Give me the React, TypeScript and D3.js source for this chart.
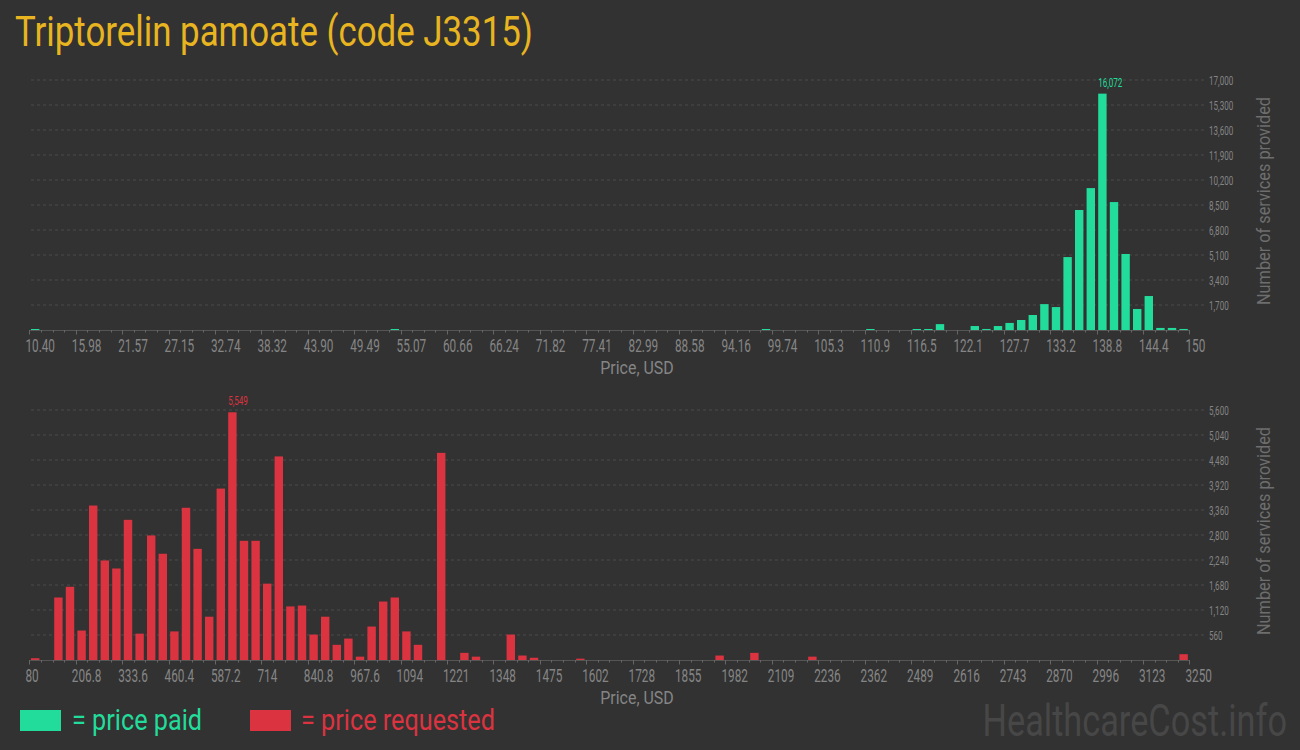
import React from "react";
import * as d3 from "d3";

const titleText = "Triptorelin pamoate (code J3315)";

const paidTickLabels = ["10.40","15.98","21.57","27.15","32.74","38.32","43.90","49.49","55.07","60.66","66.24","71.82","77.41","82.99","88.58","94.16","99.74","105.3","110.9","116.5","122.1","127.7","133.2","138.8","144.4","150"];
const requestedTickLabels = ["80","206.8","333.6","460.4","587.2","714","840.8","967.6","1094","1221","1348","1475","1602","1728","1855","1982","2109","2236","2362","2489","2616","2743","2870","2996","3123","3250"];

const paidDomain = [10.4, 150];
const requestedDomain = [80, 3250];

// 100 bins each
const paidCounts = [
  45, 0, 0, 0, 0, 0, 0, 0, 0, 0,
  0, 0, 0, 0, 0, 0, 0, 0, 0, 0,
  0, 0, 0, 0, 0, 0, 0, 0, 0, 0,
  0, 40, 0, 0, 0, 0, 0, 0, 0, 0,
  0, 0, 0, 0, 0, 0, 0, 0, 0, 0,
  0, 0, 0, 0, 0, 0, 0, 0, 0, 0,
  0, 0, 0, 40, 0, 0, 0, 0, 0, 0,
  0, 0, 40, 0, 0, 0, 50, 50, 400, 0,
  0, 270, 70, 270, 480, 680, 1020, 1760, 1560, 4960,
  8160, 9650, 16072, 8700, 5170, 1430, 2310, 140, 140, 70,
];

const requestedCounts = [
  40, 0, 1400, 1640, 660, 3460, 2230, 2050, 3140, 590,
  2790, 2380, 640, 3410, 2490, 970, 3840, 5549, 2670, 2670,
  1710, 4560, 1200, 1220, 570, 970, 340, 480, 75, 750,
  1310, 1400, 640, 340, 0, 4640, 0, 160, 75, 0,
  0, 570, 100, 50, 0, 0, 0, 30, 0, 0,
  0, 0, 0, 0, 0, 0, 0, 0, 0, 100,
  0, 0, 160, 0, 0, 0, 0, 75, 0, 0,
  0, 0, 0, 0, 0, 0, 0, 0, 0, 0,
  0, 0, 0, 0, 0, 0, 0, 0, 0, 0,
  0, 0, 0, 0, 0, 0, 0, 0, 0, 130,
];

const paidYTicks = [1700, 3400, 5100, 6800, 8500, 10200, 11900, 13600, 15300, 17000];
const requestedYTicks = [560, 1120, 1680, 2240, 2800, 3360, 3920, 4480, 5040, 5600];

const BG = "#323232";
const GREEN = "#22dc9b";
const RED = "#dc3340";
const TITLE = "#e8b520";
const TEXT = "#858585";
const FONT = "Roboto, 'Liberation Sans', sans-serif";

const X0 = 29.4;
const X1 = 1189.4;

type PanelProps = {
  counts: number[];
  domain: number[];
  tickLabels: string[];
  yTicks: number[];
  yTop: number;
  yBase: number;
  color: string;
};

function CText(props: { x: number; y: number; sx?: number; size: number; fill: string; anchor?: string; children: React.ReactNode }) {
  const { x, y, sx = 0.62, size, fill, anchor = "start", children } = props;
  return (
    <text
      transform={`translate(${x},${y}) scale(${sx},1)`}
      fontSize={size}
      fill={fill}
      fontFamily={FONT}
      textAnchor={anchor}
    >
      {children}
    </text>
  );
}

function Panel({ counts, domain, tickLabels, yTicks, yTop, yBase, color }: PanelProps) {
  const x = d3.scaleLinear().domain(domain).range([X0, X1]);
  const yMax = yTicks[yTicks.length - 1];
  const y = d3.scaleLinear().domain([0, yMax]).range([yBase, yTop]);
  const n = counts.length;
  const binW = (domain[1] - domain[0]) / n;
  const majorStep = (domain[1] - domain[0]) / (tickLabels.length - 1);
  const fmt = d3.format(",");
  const maxVal = d3.max(counts) as number;
  const maxIdx = counts.indexOf(maxVal);
  const pad = 1.6;

  return (
    <g>
      {yTicks.map((t) => (
        <g key={"g" + t}>
          <line x1={31} x2={1205} y1={y(t)} y2={y(t)} stroke="#4b4b4b" strokeWidth={1} strokeDasharray="3,3" />
          <CText x={1209} y={y(t) + 4.5} size={13} fill={TEXT}>{fmt(t)}</CText>
        </g>
      ))}
      {counts.map((c, i) => {
        if (c <= 0) return null;
        const x0 = x(domain[0] + i * binW);
        const x1 = x(domain[0] + (i + 1) * binW);
        const h = Math.max(1, yBase - y(c));
        return <rect key={"b" + i} x={x0 + pad} width={x1 - x0 - 2 * pad} y={yBase - h} height={h} fill={color} />;
      })}
      <line x1={X0} x2={X1} y1={yBase + 0.5} y2={yBase + 0.5} stroke="#555" strokeWidth={1} />
      {d3.range(n + 1).map((i) => {
        const xx = Math.round(x(domain[0] + i * binW)) + 0.5;
        const major = i % 4 === 0;
        return <line key={"t" + i} x1={xx} x2={xx} y1={yBase} y2={yBase + (major ? 4.5 : 2.5)} stroke="#666" strokeWidth={1} />;
      })}
      {tickLabels.map((lab, i) => (
        <CText key={"l" + i} x={x(domain[0] + i * majorStep) - 4} y={yBase + 22} size={19} fill={TEXT}>{lab}</CText>
      ))}
      <CText x={637} y={yBase + 44} size={19} sx={0.84} fill={TEXT} anchor="middle">Price, USD</CText>
      <text
        transform={`translate(1270,${(yTop + yBase) / 2 - 4}) rotate(-90)`}
        textAnchor="middle"
        fontSize={19}
        fontFamily={FONT}
        fill="#6e6e6e"
        textLength={208}
        lengthAdjust="spacingAndGlyphs"
      >
        Number of services provided
      </text>
      <CText x={x(domain[0] + maxIdx * binW) + pad} y={y(maxVal) - 7} size={13} fill={color}>{fmt(maxVal)}</CText>
    </g>
  );
}

export default function App() {
  return (
    <svg width={1300} height={750} style={{ position: "absolute", left: 0, top: 0, display: "block" }}>
      <rect x={0} y={0} width={1300} height={750} fill={BG} />
      <text x={15} y={46} fontSize={42} fontFamily={FONT} fill={TITLE} textLength={518} lengthAdjust="spacingAndGlyphs">
        {titleText}
      </text>
      <Panel counts={paidCounts} domain={paidDomain} tickLabels={paidTickLabels} yTicks={paidYTicks} yTop={80} yBase={330} color={GREEN} />
      <Panel counts={requestedCounts} domain={requestedDomain} tickLabels={requestedTickLabels} yTicks={requestedYTicks} yTop={410} yBase={660} color={RED} />
      <rect x={20} y={710} width={41} height={21} fill={GREEN} />
      <CText x={72} y={730} size={29} sx={0.87} fill={GREEN}>= price paid</CText>
      <rect x={250} y={710} width={41} height={21} fill={RED} />
      <CText x={301} y={730} size={29} sx={0.87} fill={RED}>= price requested</CText>
      <CText x={1287} y={736} size={44} sx={0.78} fill="#474747" anchor="end">HealthcareCost.info</CText>
    </svg>
  );
}
